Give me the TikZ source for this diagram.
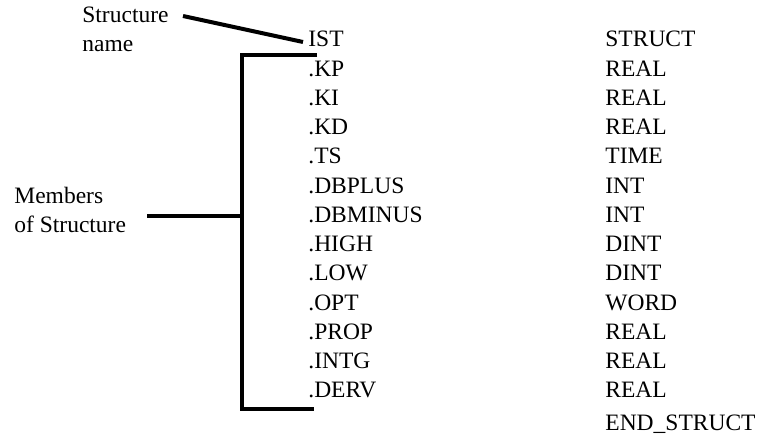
\documentclass[tikz,border=0pt]{standalone}
\usepackage{fontspec}
\setmainfont{Liberation Serif}
\usetikzlibrary{positioning, calc}

\begin{document}
\begin{tikzpicture}[
    x=0.5pt, y=-0.5pt,
    % --- Global styles ---
    every node/.style={font=\fontsize{11.75}{14.6}\selectfont, inner sep=0pt},
    % --- Text rows ---
    member/.style={anchor=base west},
    dtype/.style={anchor=base west},
    caption/.style={anchor=base west, align=left},
    % --- Lines ---
    lead/.style={line width=2pt},
    bracket/.style={line width=2pt},
  ]
  \useasboundingbox (0,0) rectangle (762,437);

  %% ---- Structure name and its type ----
  \node[member] (ist) at (308,47) {IST};
  \node[dtype] (t0) at (605,47) {STRUCT};

  %% ---- Members (name, type) ----
  \foreach \mname/\tname [count=\i] in {KP/REAL, KI/REAL, KD/REAL, TS/TIME,
      DBPLUS/INT, DBMINUS/INT, HIGH/DINT, LOW/DINT, OPT/WORD,
      PROP/REAL, INTG/REAL, DERV/REAL} {
    \node[member] (m\i) at (308,{47+29.25*\i}) {.\mname};
    \node[dtype] (t\i) at (605,{47+29.25*\i}) {\tname};
  }

  \node[dtype] (tend) at (605,431) {END\_STRUCT};

  %% ---- Captions (anchored at the last line) ----
  \node[caption] (sname) at (82,52) {Structure\\name};
  \node[caption] (smembers) at (14,233) {Members\\of Structure};

  %% ---- Lines ----
  \coordinate (snamefrom) at (183,16);
  \coordinate (istto) at (303,42);
  \draw[lead] (snamefrom) -- (istto);

  \coordinate (btop) at (317,55);
  \coordinate (bbot) at (314,409);
  \coordinate (bx) at (242,216);
  \coordinate (tickfrom) at (147,216);
  \draw[bracket] (btop) -| (bx) |- (bbot);
  \draw[lead] (tickfrom) -- (bx);

\end{tikzpicture}
\end{document}
